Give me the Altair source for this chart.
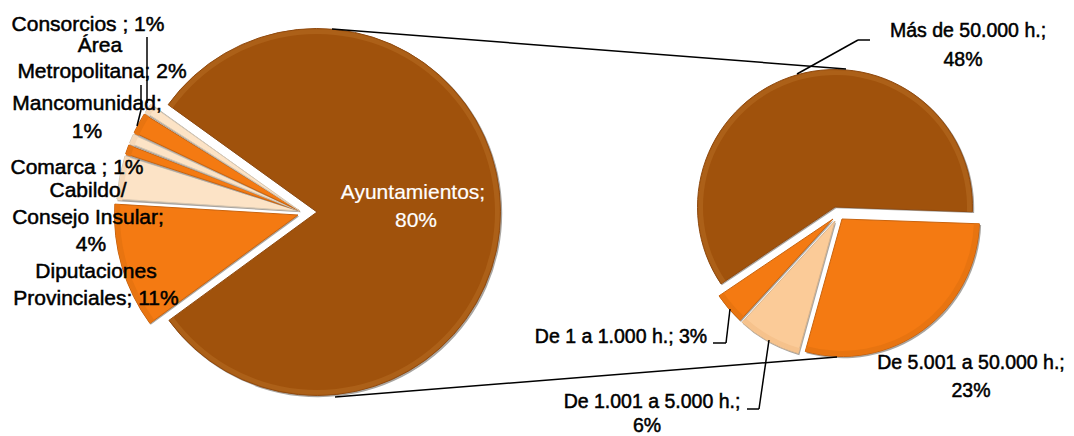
import math
import altair as alt

# data
left_names = ["Ayuntamientos", "Diputaciones Provinciales", "Cabildo/Consejo Insular", "Comarca",
              "Mancomunidad", "Área Metropolitana", "Consorcios"]
left_values = [80, 11, 4, 1, 1, 2, 1]
right_names = ["De 5.001 a 50.000 h.", "De 1.001 a 5.000 h.", "De 1 a 1.000 h.", "Más de 50.000 h."]
right_values = [23, 6, 3, 48]

BROWN, ORANGE, TAN, CREAM = "#A0520C", "#F47A12", "#FBCB98", "#FCE3C6"
EDGE = {BROWN: "#8F4A10", ORANGE: "#C9640F", TAN: "#D9B48C", CREAM: "#D8C8B2"}
RIM = {BROWN: "#AC6018", ORANGE: "#E87410", TAN: "#F6C28C", CREAM: "#F5D8B8"}

left_style = [(BROWN, 317, 212, 0), (ORANGE, 298, 215, 0), (CREAM, 300, 211, .012), (ORANGE, 300, 211, .012),
              (CREAM, 300, 211, .012), (ORANGE, 300, 211, .012), (CREAM, 300, 211, .012)]
right_style = [(ORANGE, 842, 219, 0), (TAN, 835, 221, 0), (ORANGE, 833, 219, 0), (BROWN, 835, 207, 0)]


def px(v):
    return alt.value(v - 8)


def table(names, values):
    rows, run = [], 0
    for n, v in zip(names, values):
        rows.append({"name": n, "value": v, "start": run, "end": run + v})
        run += v
    return rows, run


def pie(names, values, styles, start_deg, radius):
    rows, total = table(names, values)
    a = math.radians(start_deg)
    scale = alt.Scale(domain=[0, total], range=[a, a + 2 * math.pi])
    out = []
    for row, (col, cx, cy, pad) in zip(rows, styles):
        data = alt.Data(values=[row])
        enc = lambda dx: dict(
            x=px(cx + dx), y=px(cy + dx),
            theta=alt.Theta("start:Q", scale=scale),
            theta2=alt.Theta2("end:Q"),
        )
        out.append(alt.Chart(data).mark_arc(radius=radius, color="#a9a5a0").encode(**enc(1.2)))
        out.append(alt.Chart(data).mark_arc(radius=radius - 0.5, color=col, stroke=EDGE[col], strokeWidth=1,
                                            padAngle=pad, strokeJoin="round").encode(**enc(0)))
        out.append(alt.Chart(data).mark_arc(radius=radius - 1.2, radius2=radius - 6, color=RIM[col],
                                            padAngle=0).encode(**enc(0)))
    return out


def rules(pts, width=1.5):
    out = []
    for (x1, y1), (x2, y2) in zip(pts, pts[1:]):
        out.append(alt.Chart(alt.Data(values=[{"a": 1}])).mark_rule(color="#000000", strokeWidth=width).encode(
            x=px(x1), y=px(y1), x2=px(x2), y2=px(y2)))
    return out


def label(text, x, y, color="#000000", sw=0.5, size=21):
    return alt.Chart(alt.Data(values=[{"t": text}])).mark_text(
        font="Liberation Sans", fontSize=size, color=color, align="center", baseline="middle",
        stroke=color, strokeWidth=sw,
    ).encode(text="t:N", x=px(x), y=px(y))


lines = [
    [(332, 29), (846, 69)],
    [(335, 397), (837, 357)],
    [(797, 74), (858, 40), (870, 40)],
    [(730, 309), (726, 343), (713, 343)],
    [(769, 340), (759, 409), (747, 409)],
    [(141, 85), (141, 110), (137, 126)],
    [(147, 37), (147, 103)],
]

labels = [
    ("Consorcios ; 1%", 88, 25), ("Área", 100, 46), ("Metropolitana; 2%", 102, 72),
    ("Mancomunidad;", 87, 104), ("1%", 87, 132), ("Comarca ; 1%", 77, 168),
    ("Cabildo/", 88, 191), ("Consejo Insular;", 88, 218), ("4%", 91, 245),
    ("Diputaciones", 96, 272), ("Provinciales; 11%", 96, 299),
]
right_labels = [
    ("Más de  50.000 h.;", 968, 31), ("48%", 963, 60),
    ("De 5.001 a 50.000 h.;", 971, 363), ("23%", 971, 391),
    ("De 1 a 1.000 h.; 3%", 621, 337),
    ("De 1.001 a 5.000 h.;", 652, 402), ("6%", 647, 426),
]

layers = []
layers += pie(left_names, left_values, left_style, -54.2, 184)
layers += pie(right_names, right_values, right_style, 92, 138)
for pts in lines:
    layers += rules(pts)
layers += [label(*l) for l in labels]
layers += [label(*l, size=19.5) for l in right_labels]
layers += [label("Ayuntamientos;", 413, 193, "#FFFFFF", 0.2), label("80%", 416, 221, "#FFFFFF", 0.2)]

chart = alt.layer(*layers).resolve_scale(theta="independent").properties(
    width=1058, height=428, padding=0, autosize=alt.AutoSizeParams(type="none")
).configure_view(stroke=None)

chart.save("out.html", embed_options={"renderer": "svg", "actions": False})
